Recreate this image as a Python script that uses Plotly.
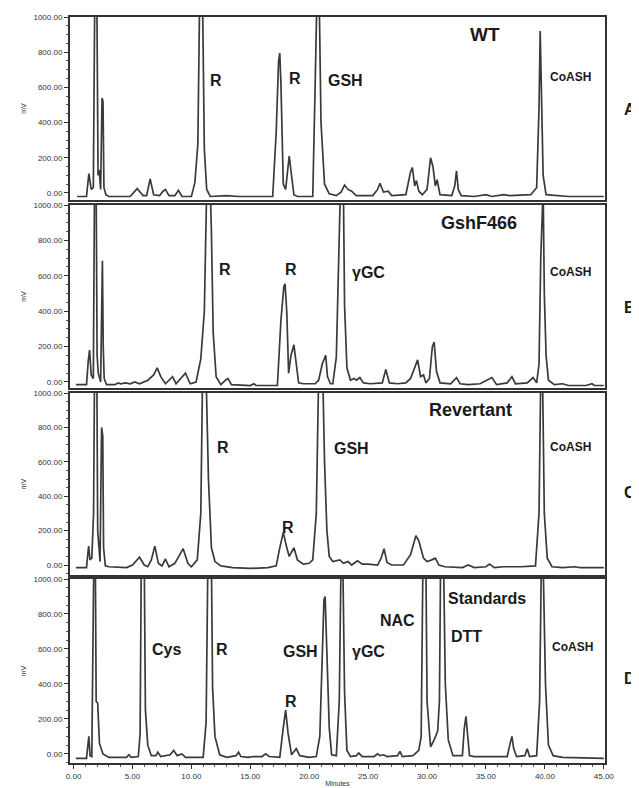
import plotly.graph_objects as go

# ---------------- data: chromatogram traces (time in min, signal in mV) ----------------
wt_t = [0.3, 1.1, 1.3, 1.5, 1.68, 1.80, 1.98, 2.08, 2.18, 2.3, 2.42, 2.5, 2.58, 2.75, 3.0, 4.8, 5.4, 5.9, 6.2, 6.5, 6.8,
        7.3, 7.6, 7.8, 8.1, 8.6, 8.9, 9.2, 10.0, 10.3, 10.55, 10.7, 10.95, 11.1, 11.3, 11.6, 13.0, 14.0, 16.9, 17.2,
        17.4, 17.5, 17.6, 17.8, 18.0, 18.3, 18.5, 18.7, 19.0, 20.3, 20.5, 20.65, 20.85, 21.0, 21.3, 21.7, 22.3, 22.7,
        23.0, 23.3, 23.6, 24.0, 25.4, 25.8, 26.0, 26.3, 26.7, 27.0, 28.2, 28.6, 28.75, 28.95, 29.1, 29.3, 29.6, 30.0,
        30.3, 30.5, 30.7, 30.85, 31.1, 32.1, 32.35, 32.5, 32.65, 32.9, 34.0, 35.0, 35.5, 36.5, 37.0, 38.2, 38.8, 39.3,
        39.5, 39.6, 39.7, 39.85, 40.1, 41.0, 42.0, 45.0]
wt_mv = [-20, -20, 110, 20, 30, 1100, 1100, 100, 130, 20, 540, 520, 30, -10, -20, -20, 25, -15, -15, 80, -10,
         -15, 10, 20, -15, -15, 15, -20, -20, 60, 280, 1100, 1100, 250, 20, -20, -15, -20, -20, 350,
         750, 795, 620, 50, 20, 210, 100, -10, -20, -20, 600, 1100, 1100, 400, 50, -5, -15, 5,
         45, 20, 10, -15, -15, 20, 55, 5, 10, -15, -10, 120, 145, 40, 70, 10, -10, 20,
         200, 150, 40, 75, -10, -15, 40, 125, 20, -15, -20, -10, -20, -10, -15, -10, -10, 30,
         480, 920, 520, 100, -10, -15, -20, -20]

gsh_t = [0.2, 1.1, 1.25, 1.36, 1.5, 1.68, 1.78, 1.92, 2.0, 2.1, 2.3, 2.45, 2.52, 2.6, 2.8, 3.5, 3.8, 4.0, 4.4, 4.8, 5.2,
         5.6, 6.3, 6.8, 7.1, 7.4, 7.8, 8.1, 8.4, 8.7, 9.1, 9.5, 9.9, 10.4, 10.8, 11.1, 11.3, 11.6, 11.7, 11.85, 12.1,
         12.5, 12.9, 13.1, 13.4, 15.0, 15.3, 15.5, 16.5, 17.3, 17.6, 17.85, 17.95, 18.1, 18.25, 18.45, 18.7, 18.85,
         19.1, 19.5, 20.5, 20.8, 21.1, 21.4, 21.55, 21.8, 22.0, 22.3, 22.5, 22.65, 22.9, 23.0, 23.2, 23.5, 23.8, 24.0,
         24.3, 24.6, 25.2, 26.2, 26.5, 26.8, 27.5, 28.2, 28.6, 29.0, 29.2, 29.45, 29.7, 29.9, 30.2, 30.45, 30.6, 30.8,
         31.1, 32.0, 32.5, 32.8, 33.5, 34.5, 35.5, 35.9, 36.8, 37.2, 37.5, 38.5, 39.0, 39.3, 39.5, 39.65, 39.75,
         39.85, 39.95, 40.1, 40.3, 40.8, 41.5, 42.0, 43.5, 44.0, 44.2, 45.0]
gsh_mv = [-15, -15, 120, 180, 40, 20, 1100, 1100, 150, 50, 0, 685, 200, 20, -15, -15, -5, -10, -5, -10, 0,
          -10, 10, 40, 80, 30, -10, 10, 30, -10, 20, 50, -10, 0, 130, 400, 1100, 1100, 850, 280, 30,
          -15, 10, 20, -15, -20, -10, -20, -20, -20, 350, 540, 555, 390, 50, 150, 210, 120,
          -5, -10, -10, 10, 100, 150, 30, -10, -10, 140, 650, 1100, 1100, 430, 80, 10, 20, 10,
          25, -5, -10, -5, 70, -5, -10, -5, 20, 90, 125, 30, 40, -5, 20, 200, 225, 60,
          -5, -10, 25, -10, -15, -10, 25, -15, -5, 30, -10, -5, 25, -5, 100, 700, 1100,
          1100, 500, 150, 10, -15, -10, -20, -20, -10, -20, -20]

rev_t = [0.2, 1.1, 1.28, 1.4, 1.55, 1.7, 1.78, 1.98, 2.05, 2.15, 2.25, 2.38, 2.48, 2.55, 2.7, 3.0, 4.5, 5.0, 5.6, 6.0,
         6.3, 6.6, 6.9, 7.2, 7.5, 7.8, 8.1, 8.6, 9.3, 9.7, 10.0, 10.5, 10.8, 10.95, 11.25, 11.45, 11.7, 12.0, 12.5,
         13.5, 15.0, 16.5, 17.2, 17.5, 17.8, 18.1, 18.3, 18.7, 19.0, 19.5, 20.0, 20.3, 20.6, 20.8, 21.15, 21.3, 21.5,
         21.7, 22.0, 22.6, 22.9, 23.3, 23.6, 24.1, 24.5, 25.0, 25.8, 26.1, 26.35, 26.6, 27.0, 28.0, 28.6, 29.05, 29.3,
         29.7, 30.0, 30.4, 30.7, 31.0, 31.5, 33.0, 33.5, 34.0, 35.0, 35.3, 35.7, 36.5, 37.0, 38.0, 39.2, 39.5, 39.65,
         39.8, 39.95, 40.2, 40.6, 41.5, 42.5, 43.0, 45.0]
rev_mv = [-15, -15, 110, 30, 40, 300, 1100, 1100, 200, 130, 20, 800, 750, 100, -5, -10, -15, 0, 45, 0,
          -10, 30, 110, 10, -5, 35, -10, 10, 95, 10, -10, 30, 300, 1100, 1100, 500, 100, 20, -5,
          -15, -20, -15, -5, 100, 190, 100, 50, 100, 30, 5, 10, 30, 300, 1100, 1100, 600, 200,
          50, 20, 30, 10, 20, 0, 25, 5, 5, 0, 40, 95, 15, 0, 0, 60, 170, 140,
          40, 20, 30, 40, 0, -10, -15, 0, -15, -10, 5, -15, -10, -10, -10, -5, 300, 1100,
          1100, 300, 40, -10, -15, -10, -15, -15]

std_t = [0.2, 1.1, 1.2, 1.3, 1.4, 1.55, 1.72, 1.85, 1.92, 2.05, 2.2, 2.5, 3.0, 4.5, 4.7, 4.9, 5.5, 5.65, 5.75, 6.0,
         6.1, 6.3, 6.6, 7.0, 7.15, 7.4, 8.2, 8.5, 8.8, 9.2, 9.5, 11.0, 11.25, 11.4, 11.7, 11.8, 12.0, 12.4, 13.0,
         13.8, 14.0, 14.2, 14.8, 15.3, 16.0, 16.3, 16.6, 17.5, 17.8, 18.0, 18.2, 18.5, 18.9, 19.2, 20.0, 20.6, 20.9,
         21.1, 21.25, 21.35, 21.5, 21.7, 21.9, 22.3, 22.55, 22.7, 22.85, 23.0, 23.2, 23.5, 24.0, 24.2, 24.5, 25.5,
         25.8, 26.0, 26.3, 26.6, 27.5, 27.7, 27.9, 28.8, 29.3, 29.5, 29.65, 29.9, 30.0, 30.3, 30.6, 30.9, 31.05,
         31.15, 31.4, 31.55, 31.8, 32.2, 33.0, 33.15, 33.3, 33.45, 33.6, 34.0, 36.8, 37.05, 37.2, 37.35, 37.6, 38.3,
         38.5, 38.7, 39.3, 39.55, 39.7, 39.85, 40.05, 40.3, 40.7, 41.5, 45.0]
std_mv = [-25, -25, 40, 100, -10, -15, 1100, 1100, 300, 290, 60, 0, -20, -20, -5, -20, -15, 120, 1100, 1100,
          250, 50, -10, -10, 10, -15, -5, 20, -10, 0, -20, -20, 180, 1100, 1100, 380, 100, -5, -20,
          -10, 10, -15, -20, -15, -15, 0, -15, -20, 150, 250, 120, -5, 30, -10, -20, -15, 100,
          500, 880, 900, 600, 150, -5, -10, 300, 1100, 1100, 350, 20, -15, -10, 5, -15, -15,
          0, -10, -5, -15, -10, 15, -15, -10, 20, 100, 1100, 1100, 300, 40, 80, 130, 300,
          1100, 1100, 400, 80, -10, -10, 140, 215, 120, -10, -15, -15, 60, 100, 30, -15, -10,
          30, -15, -10, 300, 1100, 1100, 400, 50, -10, -20, -25]

panel_names = ["WT", "GshF466", "Revertant", "Standards"]
panel_letters = ["A", "B", "C", "D"]
y_tick_vals = [0, 200, 400, 600, 800, 1000]
y_tick_text = ["0.00", "200.00", "400.00", "600.00", "800.00", "1000.00"]
x_tick_vals = [0, 5, 10, 15, 20, 25, 30, 35, 40, 45]
x_tick_text = ["0.00", "5.00", "10.00", "15.00", "20.00", "25.00", "30.00", "35.00", "40.00", "45.00"]

# peak labels per panel: (text, time, mV, size)
labels = [
    [("R", 11.4, 640, 16), ("R", 18.1, 650, 16), ("GSH", 21.4, 640, 16), ("WT", 33.5, 900, 19), ("CoASH", 40.3, 660, 12)],
    [("R", 12.2, 633, 16), ("R", 17.8, 633, 16), ("γGC", 23.5, 620, 16), ("GshF466", 31.0, 900, 18), ("CoASH", 40.3, 620, 12)],
    [("R", 12.0, 686, 16), ("R", 17.5, 220, 16), ("GSH", 21.9, 675, 16), ("Revertant", 30.0, 900, 18), ("CoASH", 40.3, 686, 12)],
    [("Cys", 6.5, 598, 16), ("R", 11.9, 598, 16), ("GSH", 17.6, 586, 16), ("R", 17.8, 300, 16), ("γGC", 23.5, 586, 16),
     ("NAC", 25.8, 760, 16), ("Standards", 31.6, 890, 16), ("DTT", 31.9, 672, 16), ("CoASH", 40.4, 610, 12)],
]
letter_y_px = [110, 307, 492, 678]

traces = [(wt_t, wt_mv), (gsh_t, gsh_mv), (rev_t, rev_mv), (std_t, std_mv)]

# ---------------- layout (the page body adds an 8 px margin) ----------------
OFF = 8
W, H = 639 - OFF, 788 - OFF
ml, mr, mt, mb = 70 - OFF, 34, 17 - OFF, 25
pw = W - ml - mr
ph = H - mt - mb
panel_px = [(17, 200), (205, 388), (393, 575), (579, 763)]
y_ranges = [[-40, 1000], [-34, 1000], [-58, 1000], [-52, 1000]]
line_col = "#3a3a3a"


def py2paper(py):
    return (H - mb - (py - OFF)) / ph


def px2paper(px):
    return (px - OFF - ml) / pw


fig = go.Figure()
layout = dict(width=W, height=H, margin=dict(l=ml, r=mr, t=mt, b=mb, autoexpand=False),
              paper_bgcolor="white", plot_bgcolor="white", showlegend=False,
              font=dict(family="Liberation Sans, Arial, sans-serif", color="#222"))
annotations = []
for i in range(4):
    xa = "x" if i == 0 else f"x{i+1}"
    ya = "y" if i == 0 else f"y{i+1}"
    t, mv = traces[i]
    fig.add_trace(go.Scatter(x=t, y=mv, mode="lines", xaxis=xa, yaxis=ya,
                             line=dict(color=line_col, width=1.7), hoverinfo="skip"))
    top, bot = panel_px[i]
    dom = [py2paper(bot), py2paper(top)]
    last = (i == 3)
    layout["xaxis" if i == 0 else f"xaxis{i+1}"] = dict(
        domain=[0, 1], anchor=ya, range=[-0.3, 45.1], showgrid=False, zeroline=False,
        showline=True, linecolor="#333", linewidth=2, mirror=True,
        ticks="outside" if last else "", ticklen=4, tickwidth=1, tickcolor="#333",
        tickvals=x_tick_vals, ticktext=x_tick_text if last else [""] * len(x_tick_vals),
        showticklabels=last, tickfont=dict(size=8, color="#333"),
        minor=dict(dtick=1, ticks="outside" if last else "", ticklen=2, tickcolor="#555"),
        title=dict(text="Minutes", font=dict(size=7, color="#333"), standoff=2) if last else None)
    layout["yaxis" if i == 0 else f"yaxis{i+1}"] = dict(
        domain=dom, anchor=xa, range=y_ranges[i], showgrid=False, zeroline=False,
        showline=True, linecolor="#333", linewidth=2, mirror=True,
        ticks="outside", ticklen=4, tickwidth=1, tickcolor="#333",
        tickvals=y_tick_vals, ticktext=y_tick_text, tickfont=dict(size=8, color="#333"),
        minor=dict(dtick=50, ticks="outside", ticklen=2, tickcolor="#555"),
        title=dict(text="mV", font=dict(size=7, color="#333"), standoff=6))
    for (txt, tx, ty, sz) in labels[i]:
        annotations.append(dict(text=f"<b>{txt}</b>", x=tx, y=ty, xref=xa, yref=ya,
                                xanchor="left", yanchor="middle", showarrow=False,
                                font=dict(size=sz, color="#1a1a1a")))
    annotations.append(dict(text=f"<b>{panel_letters[i]}</b>", x=px2paper(630),
                            y=py2paper(letter_y_px[i]),
                            xref="paper", yref="paper", xanchor="center", yanchor="middle",
                            showarrow=False, font=dict(size=16, color="#1a1a1a")))
layout["annotations"] = annotations
fig.update_layout(**layout)
fig.write_html("out.html")
